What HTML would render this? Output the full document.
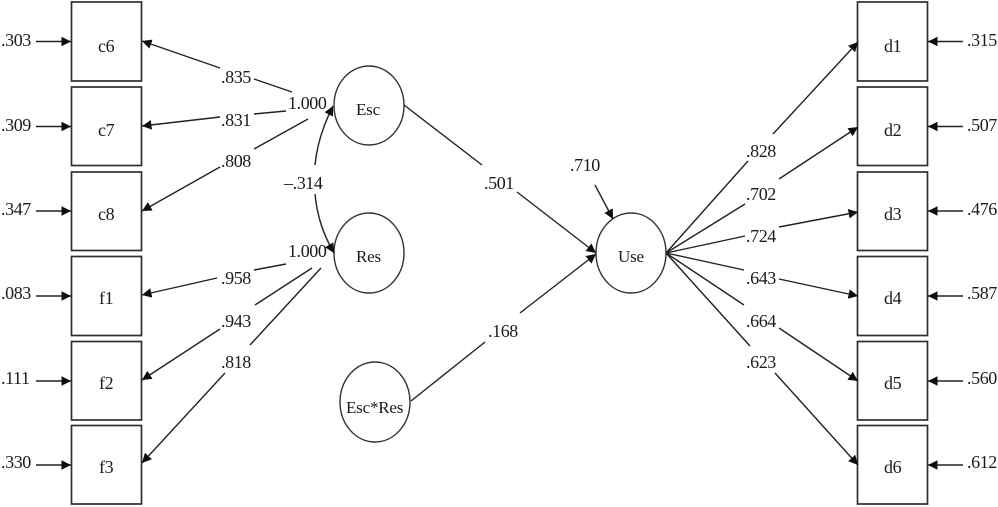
<!DOCTYPE html>
<html>
<head>
<meta charset="utf-8">
<style>
html,body{margin:0;padding:0;background:#fff;width:998px;height:507px;overflow:hidden}
svg{display:block}
text{font-family:"Liberation Serif",serif;font-size:18px;letter-spacing:-0.4px;fill:#1a1a1a}
.l{stroke:#222;stroke-width:1.4;fill:none}
.a{stroke:#222;stroke-width:1.4;fill:none;marker-end:url(#h)}
.b{fill:#fff;stroke:#2e2e2e;stroke-width:1.7}
.c{fill:#fff;stroke:#333;stroke-width:1.4}
.n{font-size:17px;letter-spacing:-0.2px}
</style>
</head>
<body>
<svg width="998" height="507" viewBox="0 0 998 507" xmlns="http://www.w3.org/2000/svg">
<defs>
<marker id="h" markerUnits="userSpaceOnUse" markerWidth="12" markerHeight="12" refX="9.5" refY="6" orient="auto">
<path d="M0,1.2 L9.5,6 L0,10.8 Z" fill="#0c0c0c"/>
</marker>
<filter id="s" filterUnits="userSpaceOnUse" x="0" y="0" width="998" height="507"><feGaussianBlur stdDeviation="0.35"/></filter>
</defs>
<g filter="url(#s)">
<!-- boxes -->
<rect class="b" x="71.5" y="2" width="70" height="79"/>
<rect class="b" x="71.5" y="87" width="70" height="78.5"/>
<rect class="b" x="71.5" y="172" width="70" height="78.5"/>
<rect class="b" x="71.5" y="256.5" width="70" height="79"/>
<rect class="b" x="71.5" y="341.5" width="70" height="78.5"/>
<rect class="b" x="71.5" y="425.5" width="70" height="78.5"/>
<rect class="b" x="857.5" y="2" width="70" height="79"/>
<rect class="b" x="857.5" y="87" width="70" height="78.5"/>
<rect class="b" x="857.5" y="172" width="70" height="78.5"/>
<rect class="b" x="857.5" y="256.5" width="70" height="79"/>
<rect class="b" x="857.5" y="341.5" width="70" height="78.5"/>
<rect class="b" x="857.5" y="425.5" width="70" height="78.5"/>
<!-- circles -->
<ellipse class="c" cx="369" cy="105.5" rx="35" ry="39.5"/>
<ellipse class="c" cx="369" cy="253" rx="35" ry="40"/>
<ellipse class="c" cx="375" cy="402" rx="35" ry="40"/>
<ellipse class="c" cx="631" cy="253" rx="35" ry="40"/>
<!-- left residual arrows -->
<line class="a" x1="36" y1="41.5" x2="71" y2="41.5"/>
<line class="a" x1="36" y1="126.5" x2="71" y2="126.5"/>
<line class="a" x1="36" y1="211" x2="71" y2="211"/>
<line class="a" x1="36" y1="296" x2="71" y2="296"/>
<line class="a" x1="36" y1="381" x2="71" y2="381"/>
<line class="a" x1="36" y1="465" x2="71" y2="465"/>
<!-- right residual arrows -->
<line class="a" x1="963" y1="41.5" x2="928" y2="41.5"/>
<line class="a" x1="963" y1="126.5" x2="928" y2="126.5"/>
<line class="a" x1="963" y1="211" x2="928" y2="211"/>
<line class="a" x1="963" y1="296" x2="928" y2="296"/>
<line class="a" x1="963" y1="381" x2="928" y2="381"/>
<line class="a" x1="963" y1="465" x2="928" y2="465"/>
<!-- left loadings -->
<line class="a" x1="220" y1="68" x2="142" y2="41"/><line class="l" x1="254" y1="79" x2="292" y2="92"/>
<line class="a" x1="220" y1="117" x2="142" y2="126"/><line class="l" x1="254" y1="114" x2="286" y2="111"/>
<line class="a" x1="220" y1="167" x2="142" y2="211"/><line class="l" x1="254" y1="149" x2="308" y2="119"/>
<line class="a" x1="217" y1="278" x2="142" y2="295"/><line class="l" x1="254" y1="270" x2="286" y2="264"/>
<line class="a" x1="220" y1="329" x2="142" y2="380"/><line class="l" x1="255" y1="305" x2="312" y2="268"/>
<line class="a" x1="225" y1="373" x2="142" y2="463"/><line class="l" x1="250" y1="345" x2="321" y2="268"/>
<!-- correlation -->
<path class="a" d="M315,165 C317,143 324,124 333,106"/>
<path class="a" d="M315,194 C317,216 324,236 334,253"/>
<!-- structural -->
<line class="l" x1="404" y1="105" x2="482" y2="165"/><line class="a" x1="517" y1="192" x2="596" y2="253"/>
<line class="l" x1="411" y1="401" x2="485" y2="342"/><line class="a" x1="520" y1="313" x2="596" y2="254"/>
<line class="a" x1="595" y1="185" x2="613" y2="219"/>
<!-- right loadings -->
<line class="l" x1="666" y1="253" x2="748" y2="161"/><line class="a" x1="773" y1="134" x2="858" y2="42"/>
<line class="l" x1="666" y1="253" x2="745" y2="204"/><line class="a" x1="779" y1="179" x2="858" y2="127"/>
<line class="l" x1="666" y1="253" x2="745" y2="236"/><line class="a" x1="779" y1="227" x2="858" y2="212"/>
<line class="l" x1="666" y1="253" x2="744" y2="270"/><line class="a" x1="779" y1="279" x2="858" y2="296"/>
<line class="l" x1="666" y1="253" x2="744" y2="305"/><line class="a" x1="779" y1="328" x2="858" y2="381"/>
<line class="l" x1="666" y1="253" x2="750" y2="346"/><line class="a" x1="775" y1="373" x2="858" y2="465"/>
<!-- left values -->
<text x="1" y="46">.303</text>
<text x="1" y="131">.309</text>
<text x="1" y="215">.347</text>
<text x="1" y="299">.083</text>
<text x="1" y="384">.111</text>
<text x="1" y="468">.330</text>
<!-- box labels -->
<text x="98" y="52">c6</text>
<text x="98" y="136">c7</text>
<text x="98" y="220">c8</text>
<text x="99" y="304">f1</text>
<text x="99" y="389">f2</text>
<text x="99" y="473">f3</text>
<text x="884" y="52">d1</text>
<text x="884" y="136">d2</text>
<text x="884" y="220">d3</text>
<text x="884" y="304">d4</text>
<text x="884" y="389">d5</text>
<text x="884" y="473">d6</text>
<!-- left loading labels -->
<text x="221" y="83">.835</text>
<text x="221" y="126">.831</text>
<text x="221" y="167">.808</text>
<text x="221" y="284">.958</text>
<text x="221" y="327">.943</text>
<text x="221" y="368">.818</text>
<text x="288" y="109">1.000</text>
<text x="288" y="257">1.000</text>
<text x="284" y="189">–.314</text>
<!-- circle labels -->
<text class="n" x="356" y="115">Esc</text>
<text class="n" x="356" y="262">Res</text>
<text class="n" x="346" y="413">Esc*Res</text>
<text class="n" x="618" y="262">Use</text>
<!-- structural labels -->
<text x="484" y="189">.501</text>
<text x="488" y="337">.168</text>
<text x="570" y="171">.710</text>
<!-- right loading labels -->
<text x="746" y="157">.828</text>
<text x="746" y="200">.702</text>
<text x="746" y="242">.724</text>
<text x="746" y="284">.643</text>
<text x="746" y="327">.664</text>
<text x="746" y="368">.623</text>
<!-- right values -->
<text x="967" y="46">.315</text>
<text x="967" y="131">.507</text>
<text x="967" y="215">.476</text>
<text x="967" y="299">.587</text>
<text x="967" y="384">.560</text>
<text x="967" y="468">.612</text>
</g>
</svg>
</body>
</html>
